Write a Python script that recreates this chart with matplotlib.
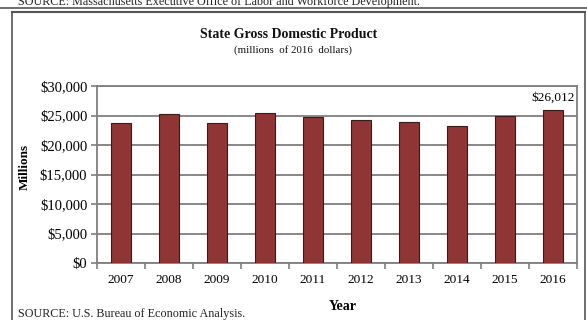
import matplotlib.pyplot as plt
from matplotlib.lines import Line2D
from matplotlib.ticker import FuncFormatter, FixedLocator

plt.rcParams["font.family"] = ["Liberation Serif", "DejaVu Serif"]

# ==================== 数据 ====================
years = ["2007", "2008", "2009", "2010", "2011", "2012", "2013", "2014", "2015", "2016"]
gdp = [23780, 25200, 23780, 25480, 24750, 24240, 23950, 23220, 24970, 26012]
y_ticks = [0, 5000, 10000, 15000, 20000, 25000, 30000]

W, H = 587, 320
fig = plt.figure(figsize=(W / 100, H / 100), dpi=100)

def fx(px):
    return px / W

def fy(py):
    return 1 - py / H

# ==================== 外框 ====================
fig.text(fx(18), fy(1.5), "SOURCE: Massachusetts Executive Office of Labor and Workforce Development.",
         fontsize=8.7, va="center", ha="left", color="#222222")
fig.add_artist(Line2D([0, 1], [fy(7.5), fy(7.5)], color="#555555", lw=1.2))
fig.add_artist(Line2D([fx(12), fx(585)], [fy(12), fy(12)], color="#555555", lw=1.5))
fig.add_artist(Line2D([fx(12), fx(12)], [fy(12), 0], color="#555555", lw=1.2))
fig.add_artist(Line2D([fx(585), fx(585)], [fy(12), 0], color="#555555", lw=1.2))

# ==================== 标题 ====================
fig.text(fx(289), fy(35), "State Gross Domestic Product", fontsize=10, fontweight="bold",
         ha="center", va="center", color="#111111")
fig.text(fx(293), fy(50), "(millions  of 2016  dollars)", fontsize=7.8,
         ha="center", va="center", color="#111111")

# ==================== 柱状图 ====================
ax = fig.add_axes([fx(97), fy(263), fx(577) - fx(97), fy(86) - fy(263)])
x = list(range(len(years)))
ax.bar(x, gdp, width=0.4, color="#8F3535", edgecolor="#3a1a1a", linewidth=0.8, zorder=3)
ax.set_xlim(-0.5, len(years) - 0.5)
ax.set_ylim(0, 30000)
ax.set_yticks(y_ticks)
ax.yaxis.set_major_formatter(FuncFormatter(lambda v, p: f"${int(v):,}"))
ax.grid(axis="y", color="#7f7f7f", lw=1.3, zorder=0)

ax.set_xticks(x)
ax.set_xticklabels(years)
ax.xaxis.set_minor_locator(FixedLocator([i + 0.5 for i in range(-1, len(years))]))
ax.tick_params(axis="x", which="major", length=0, pad=8, labelsize=9.5)
ax.tick_params(axis="x", which="minor", length=4, color="#7f7f7f", width=1.2)
ax.tick_params(axis="y", length=4, color="#7f7f7f", width=1.2, labelsize=10.5, pad=3)
for s in ax.spines.values():
    s.set_color("#7f7f7f")
    s.set_linewidth(1.3)

ax.text(len(years) - 1, gdp[-1] + 900, f"${gdp[-1]:,}", ha="center", va="bottom", fontsize=9.5)

fig.text(fx(25), fy(167), "Millions", rotation=90, fontsize=9.5, fontweight="bold",
         ha="center", va="center")
fig.text(fx(343), fy(307), "Year", fontsize=10, fontweight="bold", ha="center", va="center")
fig.text(fx(18), fy(314), "SOURCE: U.S. Bureau of Economic Analysis.", fontsize=8.7,
         ha="left", va="center", color="#222222")

fig.savefig("out.png", dpi=100)
